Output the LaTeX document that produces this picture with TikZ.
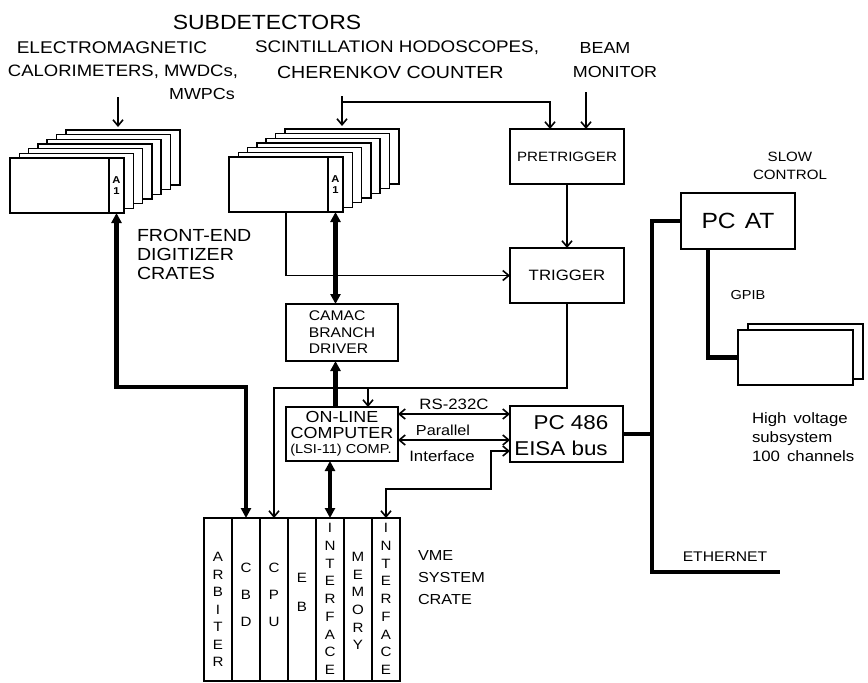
\documentclass[tikz,border=0pt]{standalone}
\usepackage{fontspec}
\setmainfont{Liberation Sans}[FakeStretch=1.12]
\usetikzlibrary{arrows.meta}
\newcommand{\fsz}[2]{\fontsize{#1}{#2}\selectfont}
\begin{document}
\begin{tikzpicture}[x=1pt,y=-1pt,
  every node/.style={inner sep=0pt, outer sep=0pt},
  box/.style={draw, line width=1.6pt, fill=white},
  ln/.style={line width=1.6pt},
  barb/.tip={Straight Barb[length=6pt,width=10pt]},
  arr/.style={ln, -barb},
  darr/.style={ln, barb-barb},
  bus/.style={line width=4.2pt},
  tip/.tip={Triangle[length=10pt,width=10pt]},
  dbus/.style={bus, tip-tip},
  lbl/.style={font=\fsz{16}{18}},
  slt/.style={align=center},
]
\useasboundingbox (0,0) rectangle (868,683);

% ---------- top labels ----------
\node[font=\fsz{20.5}{22}] (title) at (267,22) {SUBDETECTORS};
\node[lbl, font=\fsz{17}{18}] (em1) at (112,48) {ELECTROMAGNETIC};
\node[lbl, anchor=west, font=\fsz{16.5}{18}] (em2) at (8,72) {CALORIMETERS, MWDCs,};
\node[lbl] (em3) at (202,94) {MWPCs};
\node[lbl, anchor=west, font=\fsz{16.8}{18}] (sc1) at (255,48) {SCINTILLATION HODOSCOPES,};
\node[lbl, anchor=west, font=\fsz{17.5}{18}] (sc2) at (277,72) {CHERENKOV COUNTER};
\node[lbl] (bm1) at (605,48) {BEAM};
\node[lbl] (bm2) at (615,72) {MONITOR};

% ---------- left crate stack ----------
\foreach \k in {6,5,4,3,2,1}
  \draw[box] ({10+9.3*\k},{158-4.67*\k}) rectangle +(114,55);
\node[box, minimum width=114pt, minimum height=55pt, anchor=north west] (lcrate) at (10,158) {};
\node[box, minimum width=15pt, minimum height=55pt, anchor=north east, align=center, font=\fsz{10}{11}\bfseries] (lslot) at (lcrate.north east) {A\\1};

% ---------- middle crate stack ----------
\foreach \k in {6,5,4,3,2,1}
  \draw[box] ({229+9.3*\k},{157-4.67*\k}) rectangle +(114,55);
\node[box, minimum width=114pt, minimum height=55pt, anchor=north west] (mcrate) at (229,157) {};
\node[box, minimum width=15pt, minimum height=55pt, anchor=north east, align=center, font=\fsz{10}{11}\bfseries] (mslot) at (mcrate.north east) {A\\1};

\node[lbl, anchor=west, align=left, font=\fsz{17.5}{19}] (fe) at (137,254) {FRONT-END\\DIGITIZER\\CRATES};

% ---------- trigger ----------
\node[box, minimum width=114pt, minimum height=55pt, font=\fsz{13.5}{15}] (pretrig) at (567,156.5) {PRETRIGGER};
\node[box, minimum width=114pt, minimum height=55pt, font=\fsz{15}{17}] (trig) at (567,275.5) {TRIGGER};

% ---------- CAMAC / online ----------
\node[box, minimum width=112pt, minimum height=57pt, align=left, font=\fsz{14}{16.5}] (camac) at (342,332.5) {CAMAC\\BRANCH\\DRIVER};
\node[box, minimum width=112pt, minimum height=54pt] (online) at (342,434) {};
\node[font=\fsz{16}{16}] (ol1) at (342,416.5) {ON-LINE};
\node[font=\fsz{16}{16}] (ol2) at (342,433) {COMPUTER};
\node[font=\fsz{13}{13}] (ol3) at (341,450) {(LSI-11) COMP.};

% ---------- PC 486 ----------
\node[box, minimum width=113pt, minimum height=56pt] (pc486) at (566.5,434) {};
\node[font=\fsz{20}{20}] (pc1) at (571,423) {PC 486};
\node[font=\fsz{20}{20}] (pc2) at (561,448) {EISA bus};

\node[font=\fsz{15}{15}] (rs) at (454,404) {RS-232C};
\node[font=\fsz{14.5}{15}] (par) at (443,430) {Parallel};
\node[font=\fsz{15}{15}] (intf) at (442,456) {Interface};

% ---------- slow control ----------
\node[align=center, font=\fsz{13.5}{18}] (slow) at (790,166) {SLOW\\CONTROL};
\node[box, minimum width=114pt, minimum height=56pt, font=\fsz{22}{22}] (pcat) at (738,221) {PC\hspace{9pt}AT};
\node[font=\fsz{13}{13}] (gpib) at (748,295) {GPIB};
\draw[box] (748,324) rectangle (863,379);
\node[box, minimum width=115pt, minimum height=55pt] (hv) at (795.5,357.5) {};
\node[anchor=west, align=left, font=\fsz{15}{19}] (hvt) at (752,437) {High\hspace{7pt}voltage\\subsystem\\100\hspace{7pt}channels};
\node[font=\fsz{14}{14}] (eth) at (725,557) {ETHERNET};

% ---------- VME crate ----------
\foreach \i in {1,...,7}
  \node[box, minimum width=28pt, minimum height=163pt, anchor=north] (s\i) at ({218+28*(\i-1)},518) {};
\node[slt, font=\fsz{13.5}{17.5}] (t1) at (s1 |- 0,609.5) {A\\R\\B\\I\\T\\E\\R};
\node[slt, font=\fsz{13.5}{27}] (t2) at (s2 |- 0,595) {C\\B\\D};
\node[slt, font=\fsz{13.5}{27}] (t3) at (s3 |- 0,595) {C\\P\\U};
\node[slt, font=\fsz{13.5}{29}] (t4) at (s4 |- 0,592.5) {E\\B};
\node[slt, font=\fsz{13.5}{17.75}] (t5) at (s5 |- 0,599) {I\\N\\T\\E\\R\\F\\A\\C\\E};
\node[slt, font=\fsz{13.5}{17.6}] (t6) at (s6 |- 0,601) {M\\E\\M\\O\\R\\Y};
\node[slt, font=\fsz{13.5}{17.75}] (t7) at (s7 |- 0,599) {I\\N\\T\\E\\R\\F\\A\\C\\E};
\node[lbl, anchor=west, align=left, font=\fsz{14.5}{22}] (vme) at (418,578) {VME\\SYSTEM\\CRATE};

% ---------- thin connectors ----------
\coordinate (lin) at (118,97);
\coordinate (ltop) at (118,127);
\draw[arr] (lin) -- (ltop);
\coordinate (min) at (342,96);
\coordinate (mtop) at (342,126);
\draw[arr] (min) -- (mtop);
\coordinate (mj) at (342,102);
\draw[arr] (mj) -| ([xshift=-17pt]pretrig.north);
\coordinate (bin) at (586,92);
\draw[arr] (bin) -- (bin |- pretrig.north);
\draw[arr] (pretrig) -- (trig);
\draw[arr] (mcrate.south) |- (trig.west);
\draw[arr] (trig.south) -- ++(0,85) -| (s3.north);
\coordinate (tb) at (368,388);
\draw[arr] (tb) -- (tb |- online.north);
\draw[darr] (online.east |- 0,414) -- (pc486.west |- 0,414);
\draw[darr] (online.east |- 0,440) -- (pc486.west |- 0,440);
\coordinate (ib) at (491,489);
\draw[darr] (pc486.west |- 0,451) -| (ib) -| (s7.north);

% ---------- thick buses ----------
\draw[dbus] (mslot.south) -- (mslot.south |- camac.north);
\draw[bus, tip-] (mslot.south |- camac.south) -- (mslot.south |- online.north);
\draw[dbus] (s5.north |- online.south) -- (s5.north);
\coordinate (lbend) at (s2.north |- 0,387);
\draw[dbus] (lslot.south) |- (lbend) -- (s2.north);
\coordinate (ethtop) at (652,221);
\coordinate (ethend) at (780,572);
\draw[bus] (pcat.west) -- (ethtop) |- (ethend);
\draw[bus] (pc486.east) -- (pc486.east -| ethtop);
\draw[bus] ([xshift=-30pt]pcat.south) |- (hv.west);
\end{tikzpicture}
\end{document}
